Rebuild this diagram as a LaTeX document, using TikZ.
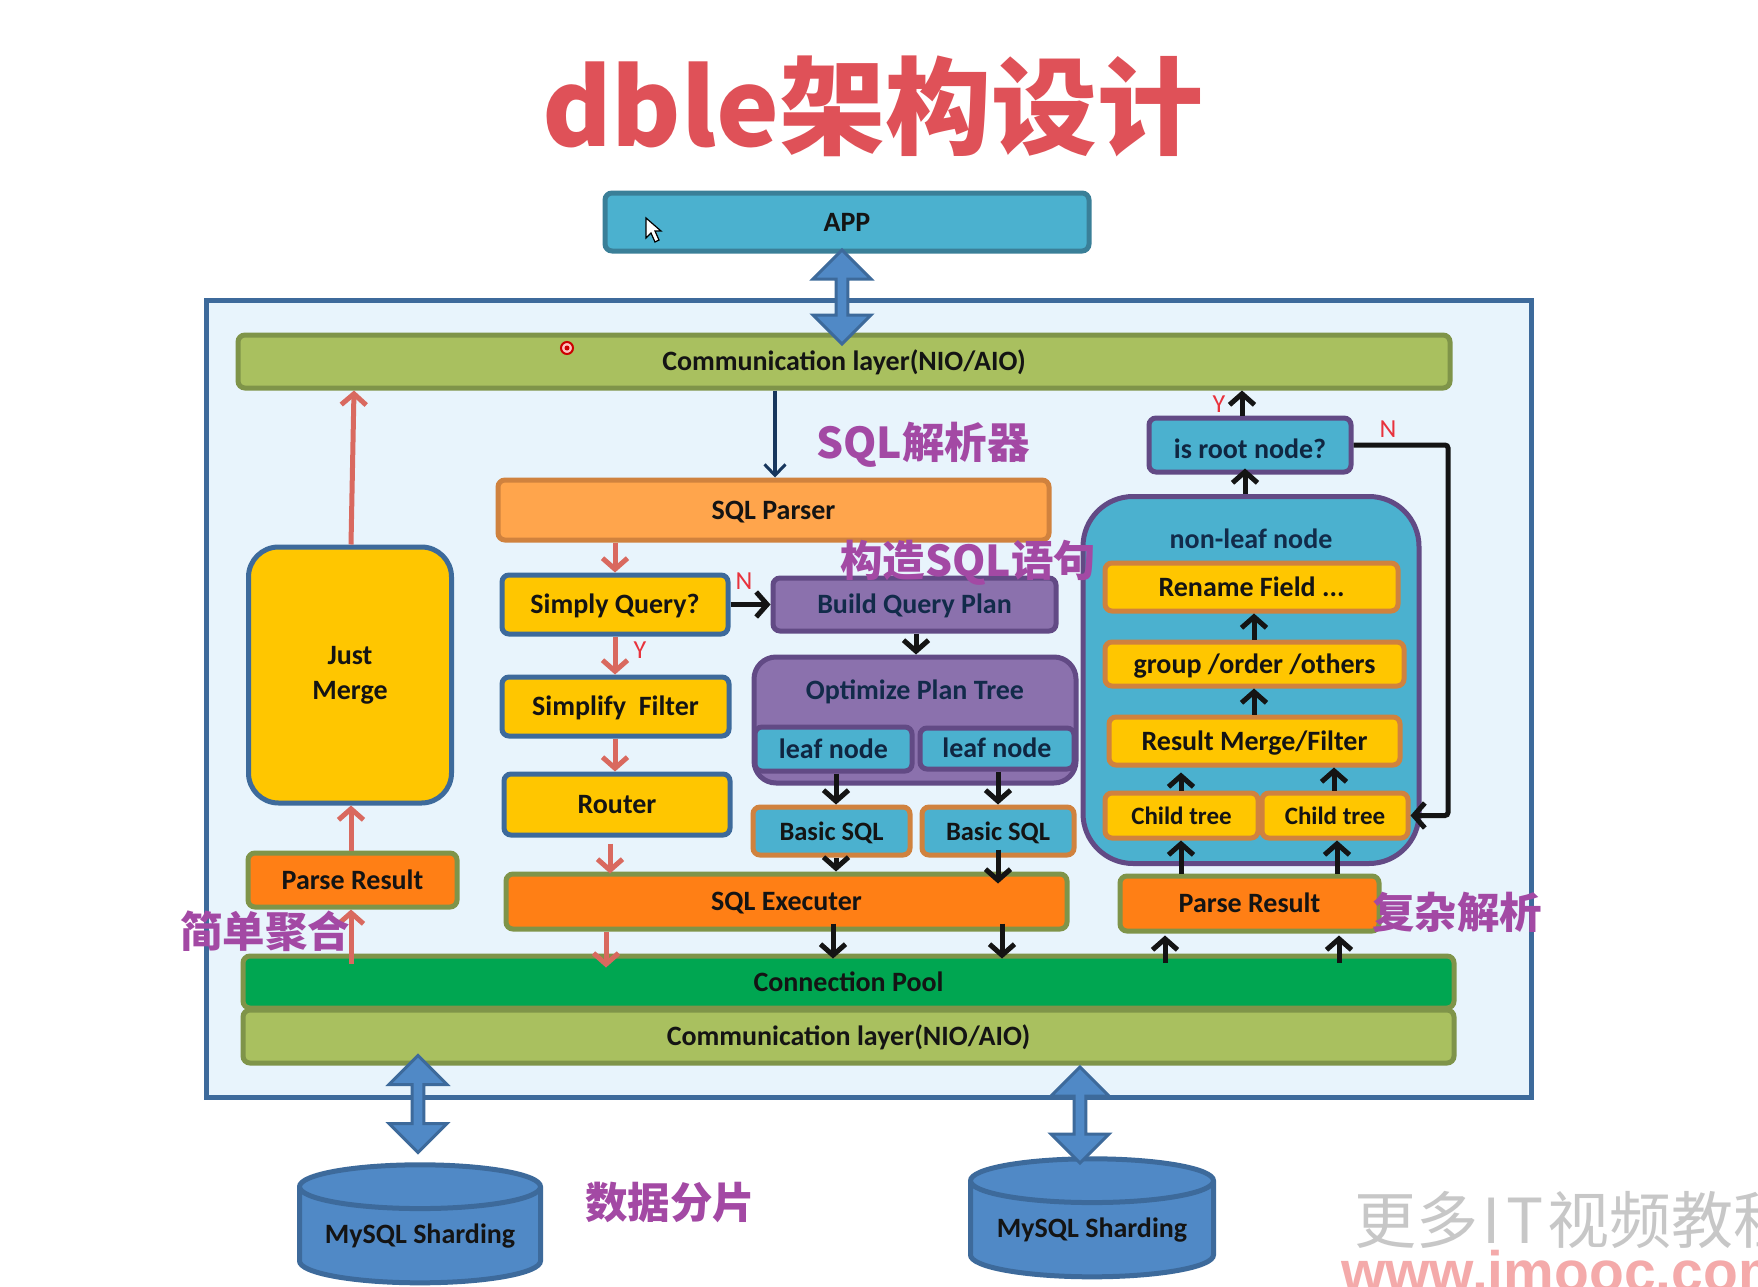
\documentclass[tikz,border=0pt]{standalone}
\usepackage{fontspec}
\setmainfont{Carlito}
\newfontfamily\cjk{Noto Sans CJK SC}
\newfontfamily\arialb{Liberation Sans}
\usetikzlibrary{arrows.meta,shapes.geometric,shapes.arrows}
\definecolor{teal1}{HTML}{4BB1CF}\definecolor{tealb}{HTML}{3A7F98}
\definecolor{green1}{HTML}{A9C05F}\definecolor{greenb}{HTML}{7F9449}
\definecolor{orange1}{HTML}{FFA54C}\definecolor{orangeb}{HTML}{D0823E}
\definecolor{yellow1}{HTML}{FFC600}\definecolor{blueb}{HTML}{3D6A9B}
\definecolor{orange2}{HTML}{FF7F15}\definecolor{purple1}{HTML}{8B71AD}
\definecolor{purpleb}{HTML}{624A85}\definecolor{pool}{HTML}{00A651}
\definecolor{cyl}{HTML}{5089C6}\definecolor{frame}{HTML}{E8F4FC}
\definecolor{redarr}{HTML}{D9695F}\definecolor{navy}{HTML}{17365D}
\definecolor{lab}{HTML}{A349A4}\definecolor{titlec}{HTML}{DF5158}
\definecolor{yn}{HTML}{E8323C}\definecolor{ink}{HTML}{141414}
\definecolor{wmred}{HTML}{F4AAAA}
\tikzset{
 base/.style={draw,line width=5pt,rounded corners=7pt,inner sep=0pt,text=ink,align=center,
   font=\fontsize{28}{35}\selectfont\bfseries,text height=18pt,text depth=0pt},
 appbox/.style={base,fill=teal1,draw=tealb},
 commbox/.style={base,fill=green1,draw=greenb},
 parserbox/.style={base,fill=orange1,draw=orangeb},
 yellowbox/.style={base,fill=yellow1,draw=blueb},
 yellowo/.style={base,fill=yellow1,draw=orangeb},
 execbox/.style={base,fill=orange2,draw=greenb},
 purplebox/.style={base,fill=purple1,draw=purpleb,text=navy!80!black},
 tealp/.style={base,fill=teal1,draw=purpleb,text=navy!70!black},
 tealo/.style={base,fill=teal1,draw=orangeb,font=\fontsize{26.5}{33}\selectfont\bfseries},
 poolbox/.style={base,fill=pool,draw=greenb},
 arr/.style={line width=5pt,-{Straight Barb[length=11pt,width=25pt,line width=5pt]},ink},
 rarr/.style={line width=5pt,-{Straight Barb[length=11pt,width=25pt,line width=5pt]},redarr},
 dbl/.style={double arrow,rotate=90,draw=blueb,fill=cyl,line width=3pt,inner sep=0pt,
   minimum width=58pt,double arrow head extend=6pt},
 cylbox/.style={cylinder,shape border rotate=90,draw=blueb,fill=cyl,cylinder uses custom fill,
   cylinder body fill=cyl,cylinder end fill=cyl,line width=5pt,inner sep=0pt,aspect=0.23,
   text=ink,font=\fontsize{28}{33}\selectfont\bfseries},
 lbl/.style={text=lab,inner sep=0pt,font=\cjk\bfseries\fontsize{42.5}{46}\selectfont},
 ynlbl/.style={text=yn,inner sep=0pt,font=\fontsize{26}{28}\selectfont},
}
\newcommand\boxn[7]{\node[#6,minimum width={(#4-#2)*1pt},minimum height={(#5-#3)*1pt}]
  (#1) at ({(#2+#4)/2},{(#3+#5)/2}) {#7};}
\begin{document}
\begin{tikzpicture}[x=1pt,y=-1pt]
\useasboundingbox (0,0) rectangle (1758,1287);
\clip (0,0) rectangle (1758,1287);
\fill[white] (0,0) rectangle (1758,1287);
% title
\node[text=titlec,inner sep=0pt,font=\cjk\bfseries\fontsize{106}{110}\selectfont] (title) at (873,106) {dble架构设计};
% outer frame
\node[draw=blueb,fill=frame,line width=5pt,minimum width=1325pt,minimum height=797pt,inner sep=0pt] (frame) at (869,699) {};
\boxn{app}{605}{193}{1089}{251}{appbox}{APP}
\boxn{commt}{238}{335}{1450}{388}{commbox}{Communication layer(NIO/AIO)}
\boxn{parser}{498}{480}{1049}{540}{parserbox}{SQL Parser}
\boxn{simply}{502}{575}{728}{634}{yellowbox}{Simply Query?}
\boxn{filter}{502}{677}{729}{736}{yellowbox}{Simplify~~Filter}
\boxn{router}{504}{774}{730}{835}{yellowbox}{Router}
\boxn{exec}{506}{874}{1067}{929}{execbox}{SQL Executer}
\boxn{build}{773}{578}{1056}{631}{purplebox}{Build Query Plan}
\node[base,fill=purple1,draw=purpleb,rounded corners=22pt,minimum width=322pt,minimum height=126pt] (opt) at (915,720) {};
\node[text=navy!80!black,inner sep=0pt,font=\fontsize{28}{31}\selectfont\bfseries] (opttext) at (915,692) {Optimize Plan Tree};
\boxn{leafa}{755}{727}{912}{771}{tealp}{leaf node}
\boxn{leafb}{920}{728}{1074}{769}{tealp}{leaf node}
\boxn{basica}{753}{807}{910}{855}{tealo}{Basic SQL}
\boxn{basicb}{922}{807}{1074}{855}{tealo}{Basic SQL}
\boxn{root}{1149}{418}{1351}{472}{tealp}{\raisebox{-4pt}{is root node?}}
\node[base,fill=teal1,draw=purpleb,rounded corners=50pt,minimum width=336pt,minimum height=367pt] (nonleaf) at (1251,680) {};
\node[text=navy!80!black,inner sep=0pt,font=\fontsize{28}{31}\selectfont\bfseries] (nltext) at (1251,539) {non-leaf node};
\boxn{rename}{1105}{563}{1398}{611}{yellowo}{Rename Field ...}
\boxn{group}{1105}{642}{1404}{686}{yellowo}{group /order /others}
\boxn{result}{1109}{717}{1400}{765}{yellowo}{Result Merge/Filter}
\boxn{childa}{1105}{793}{1258}{838}{yellowo,font=\fontsize{25}{28}\selectfont\bfseries}{Child tree}
\boxn{childb}{1262}{793}{1408}{838}{yellowo,font=\fontsize{25}{28}\selectfont\bfseries}{Child tree}
\boxn{presr}{1120}{876}{1379}{931}{execbox}{Parse Result}
\boxn{presl}{248}{853}{457}{907}{execbox}{Parse Result}
\node[base,fill=yellow1,draw=blueb,rounded corners=30pt,minimum width=203pt,minimum height=256pt,text height=,text depth=] (merge) at (350,675) {Just\\Merge};
\boxn{poolb}{243}{956}{1454}{1008}{poolbox}{Connection Pool}
\boxn{commb}{243}{1010}{1454}{1063}{commbox}{Communication layer(NIO/AIO)}
% rails
\coordinate (xa) at (775,0);
\coordinate (xb) at (615,0);
\coordinate (xc) at (610,0);
\coordinate (xd) at (606,0);
\coordinate (xe) at (916,0);
\coordinate (xf) at (836,0);
\coordinate (xg) at (998,0);
\coordinate (xh) at (833,0);
\coordinate (xi) at (1002,0);
\coordinate (xj) at (1165,0);
\coordinate (xk) at (1339,0);
\coordinate (xl) at (1181,0);
\coordinate (xm) at (1337,0);
\coordinate (xn) at (1334,0);
\coordinate (xo) at (1254,0);
\coordinate (xp) at (1245,0);
\coordinate (xq) at (1242,0);
\coordinate (xr) at (351,0);
\coordinate (xs) at (354,0);
\coordinate (xt) at (1448,0);
% connectors
\draw[line width=3.5pt,navy,-{Straight Barb[length=11pt,width=21pt,line width=3pt]}] (commt.south -| xa) -- (parser.north -| xa);
\draw[rarr] (parser.south -| xb) -- (simply.north -| xb);
\draw[rarr] (simply.south -| xb) -- (filter.north -| xb);
\draw[rarr] (filter.south -| xb) -- (router.north -| xb);
\draw[rarr] ([yshift=-6pt]router.south -| xc) -- ([yshift=-2pt]exec.north -| xc);
\draw[rarr] (exec.south -| xd) -- ([yshift=-14pt]poolb.north -| xd);
\draw[arr] (simply.east) -- (build.west);
\draw[arr] (build.south -| xe) -- (opt.north -| xe);
\draw[arr] (leafa.south -| xf) -- (basica.north -| xf);
\draw[arr] (leafb.south -| xg) -- (basicb.north -| xg);
\draw[arr] (basica.south -| xf) -- (exec.north -| xf);
\draw[arr] ([yshift=8pt]basicb.south -| xg) -- ([yshift=-12pt]exec.north -| xg);
\draw[arr] ([yshift=8pt]exec.south -| xh) -- ([yshift=-5pt]poolb.north -| xh);
\draw[arr] ([yshift=8pt]exec.south -| xi) -- ([yshift=-5pt]poolb.north -| xi);
\draw[arr] ([yshift=-9pt]poolb.north -| xj) -- ([yshift=-2pt]presr.south -| xj);
\draw[arr] ([yshift=-9pt]poolb.north -| xk) -- ([yshift=-2pt]presr.south -| xk);
\draw[arr] (presr.north -| xl) -- (childa.south -| xl);
\draw[arr] (presr.north -| xm) -- (childb.south -| xm);
\draw[arr] (childa.north -| xl) -- ([yshift=-5pt]result.south -| xl);
\draw[arr] (childb.north -| xn) -- (result.south -| xn);
\draw[arr] (result.north -| xo) -- (group.south -| xo);
\draw[arr] (group.north -| xo) -- (rename.south -| xo);
\draw[arr] (nonleaf.north -| xp) -- ([yshift=6pt]root.south -| xp);
\draw[arr] (root.north -| xq) -- (commt.south -| xq);
\draw[line width=5pt,ink,rounded corners=3pt,-{Straight Barb[length=11pt,width=25pt,line width=5pt]}] (root.east) -| (xt |- childb.east) -- (childb.east);
\draw[rarr] (merge.north -| xr) -- (commt.south -| xs);
\draw[rarr] (presl.north -| xr) -- (merge.south -| xr);
\draw[rarr] ([yshift=-10pt]poolb.north -| xr) -- (presl.south -| xr);
% sharding
\node[cylbox,minimum height=118pt,minimum width=241pt] (dba) at (420,1236) {\raisebox{-14pt}{MySQL Sharding}};
\node[cylbox,minimum height=118pt,minimum width=243pt] (dbb) at (1092,1230) {\raisebox{-8pt}{MySQL Sharding}};
% block arrows
\node[dbl,minimum height=94pt] (dblt) at (842,297) {};
\node[dbl,minimum height=97pt] (dbll) at (418,1104) {};
\node[dbl,minimum height=96pt] (dblr) at (1080,1115) {};
% labels
\node[lbl] (la) at (923,445) {SQL解析器};
\node[lbl] (lb) at (968,563) {构造SQL语句};
\node[lbl] (lc) at (265,931) {简单聚合};
\node[lbl] (ld) at (1457,912) {复杂解析};
\node[lbl] (le) at (670,1202) {数据分片};
\node[ynlbl] (na) at (744,581) {N};
\node[ynlbl] (ya) at (640,650) {Y};
\node[ynlbl] (yb) at (1219,404) {Y};
\node[ynlbl] (nb) at (1388,429) {N};
% watermark
\node[anchor=west,inner sep=0pt,text=black!22,font=\cjk\fontsize{62}{66}\selectfont] (wa) at (1354,1220) {更多\hspace{4pt}I\hspace{6pt}T\hspace{4pt}视频教程};
\node[anchor=west,inner sep=0pt,text=wmred,font=\arialb\bfseries\fontsize{57}{64}\selectfont] (wb) at (1341,1271) {www.imooc.com};
% cursor and pointer dot
\filldraw[fill=white,draw=black,line width=1.2pt] (646,218) -- (646,238) -- (651,233) -- (655,242) -- (659,240) -- (655,231) -- (661,231) -- cycle;
\draw[red!80!black,line width=2pt,fill=pink] (567,348) circle (6);
\fill[red!80!black] (567,348) circle (2.5);
\end{tikzpicture}
\end{document}
